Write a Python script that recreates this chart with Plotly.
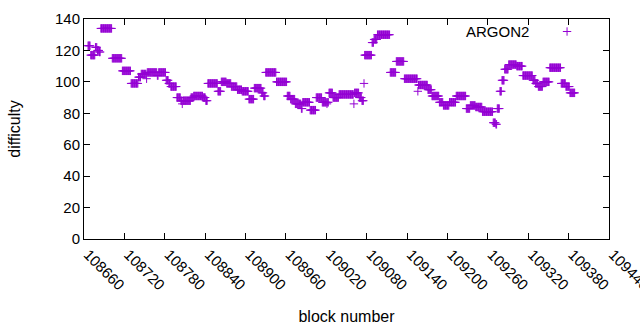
import plotly.graph_objects as go

run_start = [108666, 108670, 108677, 108680, 108683, 108685, 108702, 108717, 108730, 108741,
             108745, 108753, 108754, 108769, 108771, 108782, 108786, 108789, 108798, 108804,
             108806, 108807, 108819, 108823, 108837, 108841, 108844, 108859, 108864, 108872,
             108879, 108888, 108895, 108905, 108913, 108924, 108927, 108930, 108946, 108962,
             108967, 108974, 108983, 108985, 108996, 109005, 109014, 109021, 109022, 109024,
             109030, 109039, 109061, 109062, 109069, 109073, 109076, 109077, 109088, 109091,
             109096, 109115, 109124, 109136, 109156, 109157, 109171, 109177, 109188, 109194,
             109203, 109213, 109228, 109234, 109242, 109252, 109268, 109272, 109274, 109278,
             109281, 109285, 109291, 109303, 109312, 109327, 109331, 109335, 109342, 109352,
             109369, 109376, 109382]
run_value = [123, 117, 122, 120, 119, 134, 115, 107, 99, 103,
             105, 102, 106, 104, 106, 101, 99, 97, 90, 88,
             86, 88, 90, 91, 90, 88, 99, 94, 100, 99,
             97, 95, 94, 89, 96, 93, 91, 106, 100, 91,
             89, 86, 83, 87, 82, 90, 87, 86, 87, 93,
             90, 92, 86, 93, 90, 88, 99, 117, 125, 127,
             130, 106, 113, 102, 94, 98, 95, 91, 87, 85,
             87, 91, 83, 85, 84, 81, 74, 73, 83, 94,
             101, 108, 111, 110, 104, 101, 99, 97, 100, 109,
             99, 97, 93]
last_block = 109389
series_name = "ARGON2"

x_ticks = list(range(108660, 109441, 60))
y_ticks = list(range(0, 141, 20))

blocks, diffs = [], []
ends = run_start[1:] + [last_block + 1]
for s, e, v in zip(run_start, ends, run_value):
    for b in range(s, e):
        blocks.append(b)
        diffs.append(v)

color = "#9400D3"
font = dict(family="Liberation Sans, Arial, sans-serif", size=15, color="#000000")
tfont = dict(family="Liberation Sans, Arial, sans-serif", size=16, color="#000000")

fig = go.Figure()
fig.add_trace(go.Scatter(
    x=blocks, y=diffs, mode="markers", name=" ",
    marker=dict(symbol="cross-thin", size=6, color=color,
                line=dict(color=color, width=1)),
    showlegend=True,
))

axis_common = dict(showline=True, linecolor="#000000", linewidth=1, mirror="ticks",
                   ticks="inside", ticklen=6, tickcolor="#000000", tickwidth=1,
                   showgrid=False, zeroline=False, tickfont=font, automargin=False)

fig.update_layout(
    width=640, height=330,
    margin=dict(l=84, r=31, t=19, b=91),
    paper_bgcolor="#ffffff", plot_bgcolor="#ffffff",
    font=font,
    xaxis=dict(range=[108660, 109440], tickvals=x_ticks, ticktext=[str(t) for t in x_ticks],
               tickangle=45, ticklabeloverflow="allow", ticklabelshift=4,
               title=dict(text="block number", font=tfont, standoff=18),
               **axis_common),
    yaxis=dict(range=[0, 140], tickvals=y_ticks, ticktext=[str(t) for t in y_ticks],
               title=dict(text="difficulty", font=tfont, standoff=30), **axis_common),
    legend=dict(x=0.882, y=1.017, xanchor="left", yanchor="top",
                bgcolor="rgba(0,0,0,0)", font=font, itemwidth=30),
    annotations=[dict(text=series_name, xref="paper", yref="paper", x=0.8514, y=0.941,
                      xanchor="right", yanchor="middle", showarrow=False, font=font)],
)

fig.write_html("out.html", config={"displayModeBar": False},
               post_script="document.body.style.margin='0';")
